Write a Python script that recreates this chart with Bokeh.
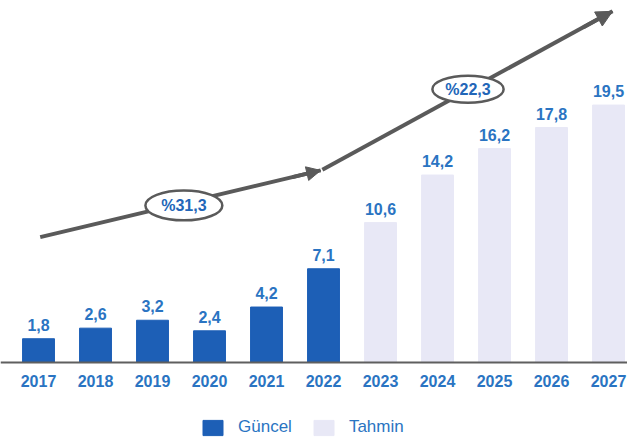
from bokeh.plotting import figure
from bokeh.models import ColumnDataSource, Legend, LegendItem, Arrow, NormalHead, Span
from bokeh.core.properties import value
from bokeh.embed import file_html
from bokeh.resources import INLINE

years = ["2017", "2018", "2019", "2020", "2021", "2022", "2023", "2024", "2025", "2026", "2027"]
actual_years = ["2017", "2018", "2019", "2020", "2021", "2022"]
actual_values = [1.8, 2.6, 3.2, 2.4, 4.2, 7.1]
forecast_years = ["2023", "2024", "2025", "2026", "2027"]
forecast_values = [10.6, 14.2, 16.2, 17.8, 19.5]
growth_labels = ["%31,3", "%22,3"]

# growth trend arrows (annotation path, in data units)
trend1_x = [0.03, 4.95]
trend1_y = [9.5, 14.55]
trend2_x = [4.98, 10.07]
trend2_y = [14.6, 26.6]
badge_x = [2.55, 7.535]
badge_y = [11.9, 20.7]

BLUE = "#1d5fb6"
LIGHT = "#e8e8f6"
TXT = "#2a74c2"
GRAY = "#5a5a5a"
FONT = "Liberation Sans"

def fmt(v):
    return ("%.1f" % v).replace(".", ",")

idx = {y: i for i, y in enumerate(years)}
src_a = ColumnDataSource(dict(x=[idx[y] for y in actual_years], top=actual_values,
                              lab=[fmt(v) for v in actual_values]))
src_f = ColumnDataSource(dict(x=[idx[y] for y in forecast_years], top=forecast_values,
                              lab=[fmt(v) for v in forecast_values]))
src_y = ColumnDataSource(dict(x=[idx[y] for y in years], y=[0] * len(years), lab=years))

p = figure(frame_width=627, frame_height=443, x_range=(-0.667, 10.333), y_range=(-6.136, 27.42),
           output_backend="svg", toolbar_location=None, min_border=0)
p.outline_line_color = None
p.background_fill_color = "white"
p.border_fill_color = "white"
p.xgrid.visible = False
p.ygrid.visible = False
p.xaxis.visible = False
p.yaxis.visible = False

r1 = p.vbar(x="x", top="top", bottom=0, width=0.56, source=src_a, color=BLUE)
r2 = p.vbar(x="x", top="top", bottom=0, width=0.56, source=src_f, color=LIGHT)

# baseline
p.add_layout(Span(location=0, dimension="width", line_color="#5f5f5f", line_width=2))

for src in (src_a, src_f):
    p.text(x="x", y="top", text="lab", source=src, text_align="center", text_baseline="bottom",
           y_offset=-8, text_font=value(FONT), text_font_style="bold",
           text_font_size="16px", text_color=TXT)

# year labels
p.text(x="x", y="y", text="lab", source=src_y, text_align="center", text_baseline="middle",
       y_offset=19, text_font=value(FONT), text_font_style="bold",
       text_font_size="16px", text_color=TXT)

# trend line
p.line(trend1_x, trend1_y, line_color=GRAY, line_width=4)
p.line(trend2_x, trend2_y, line_color=GRAY, line_width=4)
p.add_layout(Arrow(end=NormalHead(size=14, fill_color=GRAY, line_color=GRAY),
                   x_start=trend1_x[0] + 0.9 * (trend1_x[1] - trend1_x[0]),
                   y_start=trend1_y[0] + 0.9 * (trend1_y[1] - trend1_y[0]),
                   x_end=trend1_x[1], y_end=trend1_y[1], line_color=GRAY, line_width=4))
p.add_layout(Arrow(end=NormalHead(size=16, fill_color=GRAY, line_color=GRAY),
                   x_start=trend2_x[0] + 0.9 * (trend2_x[1] - trend2_x[0]),
                   y_start=trend2_y[0] + 0.9 * (trend2_y[1] - trend2_y[0]),
                   x_end=trend2_x[1], y_end=trend2_y[1], line_color=GRAY, line_width=4))

p.ellipse(x=badge_x, y=badge_y, width=[1.35, 1.25], height=[2.27, 2.05], fill_color="white",
          line_color=GRAY, line_width=2.5)
p.text(x=badge_x, y=badge_y, text=growth_labels, text_align="center", text_baseline="middle",
       text_font=value(FONT), text_font_style="bold", text_font_size="16px",
       text_color="#2266b8")

legend = Legend(items=[LegendItem(label="Güncel", renderers=[r1]),
                       LegendItem(label="Tahmin", renderers=[r2])],
                orientation="horizontal", location=(200, 6),
                label_text_font=FONT, label_text_font_size="17px",
                label_text_color=TXT, glyph_width=25, glyph_height=19, label_height=19,
                label_standoff=13, spacing=19, border_line_color=None,
                background_fill_alpha=0, margin=0, padding=0)
p.add_layout(legend, "center")

html = file_html(p, INLINE)
open("out.html", "w").write(html)
